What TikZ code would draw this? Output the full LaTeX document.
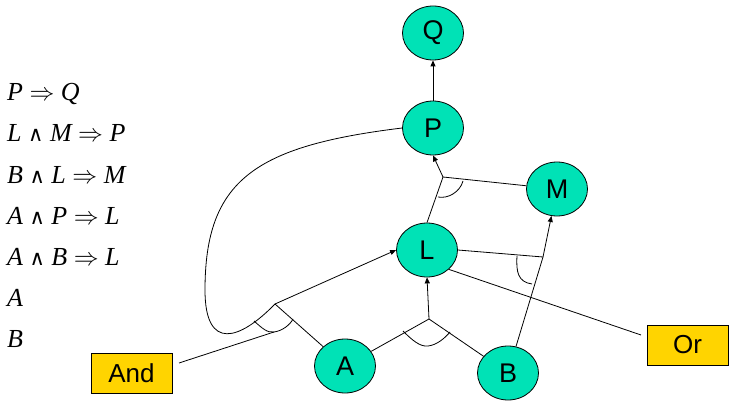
\documentclass[tikz,border=0pt]{standalone}
\usepackage{fontspec}
\setmainfont{Liberation Serif}
\newfontfamily\nodefont{Liberation Sans}
\newfontfamily\symfont{DejaVu Sans}
\usetikzlibrary{arrows.meta,shapes.geometric}
\definecolor{tealfill}{RGB}{0,226,182}
\definecolor{goldfill}{RGB}{255,212,0}
\newcommand{\sw}{{\upshape\symfont\fontsize{21}{21}\selectfont ∧}}
\newcommand{\imp}{$\Rightarrow$}
\begin{document}
\begin{tikzpicture}[x=1pt,y=-1pt,
  state/.style={ellipse, draw, line width=0.8pt, fill=tealfill, minimum width=61pt, minimum height=54pt, inner sep=0pt, font=\nodefont\fontsize{27}{27}\selectfont},
  tagbox/.style={rectangle, draw, line width=1pt, fill=goldfill, minimum width=81pt, minimum height=40pt, inner sep=0pt, font=\nodefont\fontsize{26}{26}\selectfont},
  rule/.style={anchor=base west, inner sep=0pt, font=\fontsize{26}{26}\selectfont\itshape},
  link/.style={line width=0.8pt},
  arr/.style={link, -{Triangle[length=6pt,width=5pt]}}]
\useasboundingbox (0,0) rectangle (735,406);
% rules
\node[rule] (r1) at (7,101) {P \imp\ Q};
\node[rule] (r2) at (7,142) {L \sw\ M \imp\ P};
\node[rule] (r3) at (7,183) {B \sw\ L \imp\ M};
\node[rule] (r4) at (7,224) {A \sw\ P \imp\ L};
\node[rule] (r5) at (7,265) {A \sw\ B \imp\ L};
\node[rule] (r6) at (7,306) {A};
\node[rule] (r7) at (7,347) {B};
% states
\node[state] (Q) at (433,33) {Q};
\node[state] (P) at (433,128) {P};
\node[state] (M) at (557,189) {M};
\node[state] (L) at (427,250) {L};
\node[state] (A) at (345,366) {A};
\node[state] (B) at (508,373) {B};
\node[tagbox] (And) at (131.5,373) {And};
\node[tagbox] (Or) at (687.5,345) {Or};
% junctions
\coordinate (J1) at (443,177);
\coordinate (J2) at (429,319);
\coordinate (J3) at (275,304);
\coordinate (J4) at (543,257);
\coordinate (andtip) at (179,363);
\coordinate (andend) at (274,332);
\coordinate (ortip) at (641,335);
% P => Q
\draw[arr] (P) -- (Q);
% L and M => P
\draw[link] (L.north) -- (J1);
\draw[link] (M) -- (J1);
\draw[arr] (J1) -- (P.south);
\draw[link] (438,197) .. controls (448,199) and (460,192) .. (463,181);
% A and B => L
\draw[link] (A) -- (J2);
\draw[link] (B) -- (J2);
\draw[arr] (J2) -- (L.south);
\draw[link] (403,331) .. controls (412,340) and (420,347) .. (428,346) .. controls (437,345) and (445,338) .. (450,332);
% A and P => L
\draw[link] (A) -- (J3);
\draw[link] (P.west) .. controls (255,146) and (205,180) .. (205,290) .. controls (205,352) and (240,340) .. (J3);
\draw[arr] (J3) -- (L.west);
\draw[link] (254,321) .. controls (262,328) and (267,333) .. (274,332) .. controls (282,331) and (290,325) .. (293,319);
% B and L => M
\draw[link] (L.east) -- (J4);
\draw[link] (B) -- (J4);
\draw[arr] (J4) -- (M);
\draw[link] (517,256) .. controls (516,272) and (518,282) .. (532,284);
% labels
\draw[link] (andtip) -- (andend);
\draw[link] (L.south east) -- (ortip);
\end{tikzpicture}
\end{document}
